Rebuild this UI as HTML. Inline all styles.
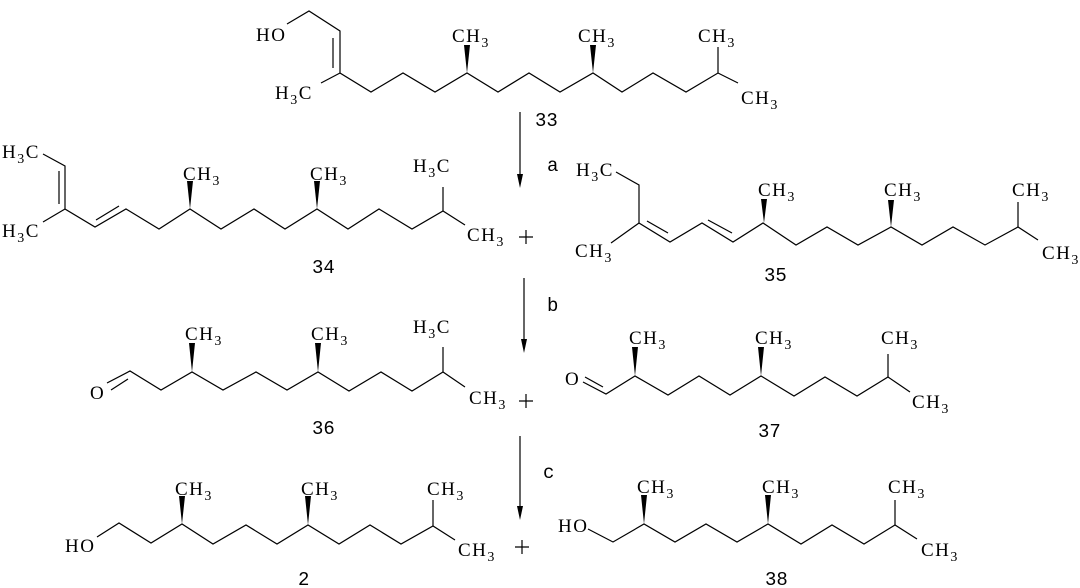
<!DOCTYPE html>
<html><head><meta charset="utf-8"><style>
html,body{margin:0;padding:0;background:#fff;}
svg{display:block;}
.a{font-family:"Liberation Serif",serif;font-size:19px;letter-spacing:1.5px;fill:#000;}
.m{font-family:"Liberation Mono",monospace;font-size:19px;fill:#000;}
.s{font-size:14px;}
</style></head><body>
<svg width="1080" height="588" viewBox="0 0 1080 588" xmlns="http://www.w3.org/2000/svg">
<g fill="none" stroke="#000" stroke-width="1.2">
<!-- 33 -->
<polyline points="287,24 309,11 340,31 340,73 371,92 403,73 435,92 467,73 498,92 529,73 560,92 593,73 622,92 653,73 686,92 718,73 738,83"/>
<line x1="333" y1="38" x2="333" y2="68"/>
<line x1="340" y1="73" x2="321" y2="83"/>
<line x1="718" y1="73" x2="718" y2="47"/>
<!-- 34 -->
<polyline points="43,154 65,166 65,209 95,227 126,209 159,229 190,209 221,229 254,209 285,229 317,209 348,229 379,209 412,229 443,211 465,225"/>
<line x1="59" y1="171" x2="59" y2="204"/>
<line x1="65" y1="209" x2="43" y2="222"/>
<line x1="96" y1="220" x2="119" y2="206"/>
<line x1="443" y1="211" x2="443" y2="187"/>
<!-- 35 -->
<polyline points="616,172 639,185 639,223 670,242 702,223 733,242 763,223 796,245 827,227 858,245 891,227 922,245 953,227 985,245 1018,227 1038,240"/>
<line x1="639" y1="223" x2="611" y2="243"/>
<line x1="647" y1="221" x2="668" y2="233"/>
<line x1="708" y1="220" x2="732" y2="233"/>
<line x1="1018" y1="227" x2="1018" y2="202"/>
<!-- 36 -->
<polyline points="107,383 130,371 161,390 192,372 223,390 256,372 287,390 318,372 349,391 381,372 412,391 443,372 465,387"/>
<line x1="111" y1="390" x2="128" y2="379"/>
<line x1="443" y1="372" x2="443" y2="347"/>
<!-- 37 -->
<polyline points="583,382 606,394 635,376 668,395 699,376 730,395 761,376 794,396 825,377 857,396 888,377 910,392"/>
<line x1="585" y1="377" x2="603" y2="387"/>
<line x1="888" y1="377" x2="888" y2="354"/>
<!-- 2 -->
<polyline points="97,537 119,523 151,543 182,524 213,544 246,525 277,544 308,525 339,544 370,525 401,544 433,526 455,540"/>
<line x1="433" y1="526" x2="433" y2="500"/>
<!-- 38 -->
<polyline points="588,529 613,542 644,524 675,542 706,524 737,542 768,524 801,544 832,525 864,544 895,525 917,539"/>
<line x1="895" y1="525" x2="895" y2="500"/>
<!-- arrows -->
<line x1="520" y1="112" x2="520" y2="180"/>
<line x1="524" y1="278" x2="524" y2="345"/>
<line x1="520" y1="436" x2="520" y2="512"/>
<!-- plus -->
<path d="M519,237h14M526,230v14M519,401h14M526,394v14M515,547h14M522,540v14"/>
</g>
<g fill="#000">
<polygon points="517,174 523,174 520,188"/>
<polygon points="521,339 527,339 524,353"/>
<polygon points="517,506 523,506 520,520"/>
<polygon points="464,45 470,45 467,73"/><polygon points="590,45 596,45 593,73"/>
<polygon points="187,181 193,181 190,209"/><polygon points="314,181 320,181 317,209"/>
<polygon points="761,199 767,199 764,223"/><polygon points="888,200 894,200 891,227"/>
<polygon points="189,343 195,343 192,372"/><polygon points="315,343 321,343 318,372"/>
<polygon points="632,347 638,347 635,376"/><polygon points="758,347 764,347 761,376"/>
<polygon points="179,496 185,496 182,524"/><polygon points="305,496 311,496 308,525"/>
<polygon points="641,495 647,495 644,524"/><polygon points="765,495 771,495 768,524"/>
</g>
<g class="a">
<text x="256" y="41">HO</text>
<text x="275" y="99">H<tspan class="s" dy="5">3</tspan><tspan dy="-5">C</tspan></text>
<text x="452" y="42">CH<tspan class="s" dy="5">3</tspan></text>
<text x="578" y="42">CH<tspan class="s" dy="5">3</tspan></text>
<text x="698" y="42">CH<tspan class="s" dy="5">3</tspan></text>
<text x="741" y="104">CH<tspan class="s" dy="5">3</tspan></text>

<text x="2" y="158">H<tspan class="s" dy="5">3</tspan><tspan dy="-5">C</tspan></text>
<text x="2" y="237">H<tspan class="s" dy="5">3</tspan><tspan dy="-5">C</tspan></text>
<text x="183" y="180">CH<tspan class="s" dy="5">3</tspan></text>
<text x="310" y="180">CH<tspan class="s" dy="5">3</tspan></text>
<text x="413" y="172">H<tspan class="s" dy="5">3</tspan><tspan dy="-5">C</tspan></text>
<text x="467" y="241">CH<tspan class="s" dy="5">3</tspan></text>

<text x="576" y="176">H<tspan class="s" dy="5">3</tspan><tspan dy="-5">C</tspan></text>
<text x="575" y="257">CH<tspan class="s" dy="5">3</tspan></text>
<text x="758" y="196">CH<tspan class="s" dy="5">3</tspan></text>
<text x="884" y="196">CH<tspan class="s" dy="5">3</tspan></text>
<text x="1012" y="196">CH<tspan class="s" dy="5">3</tspan></text>
<text x="1042" y="259">CH<tspan class="s" dy="5">3</tspan></text>

<text x="90" y="399">O</text>
<text x="185" y="340">CH<tspan class="s" dy="5">3</tspan></text>
<text x="311" y="340">CH<tspan class="s" dy="5">3</tspan></text>
<text x="413" y="333">H<tspan class="s" dy="5">3</tspan><tspan dy="-5">C</tspan></text>
<text x="469" y="404">CH<tspan class="s" dy="5">3</tspan></text>

<text x="565" y="385">O</text>
<text x="629" y="344">CH<tspan class="s" dy="5">3</tspan></text>
<text x="755" y="344">CH<tspan class="s" dy="5">3</tspan></text>
<text x="881" y="344">CH<tspan class="s" dy="5">3</tspan></text>
<text x="912" y="408">CH<tspan class="s" dy="5">3</tspan></text>

<text x="65" y="552">HO</text>
<text x="175" y="495">CH<tspan class="s" dy="5">3</tspan></text>
<text x="301" y="495">CH<tspan class="s" dy="5">3</tspan></text>
<text x="427" y="495">CH<tspan class="s" dy="5">3</tspan></text>
<text x="458" y="556">CH<tspan class="s" dy="5">3</tspan></text>

<text x="558" y="532">HO</text>
<text x="637" y="493">CH<tspan class="s" dy="5">3</tspan></text>
<text x="762" y="493">CH<tspan class="s" dy="5">3</tspan></text>
<text x="888" y="493">CH<tspan class="s" dy="5">3</tspan></text>
<text x="921" y="556">CH<tspan class="s" dy="5">3</tspan></text>
</g>
<g class="m">
<text x="535" y="126">33</text>
<text x="547" y="171">a</text>
<text x="312" y="273">34</text>
<text x="764" y="281">35</text>
<text x="547" y="311">b</text>
<text x="312" y="434">36</text>
<text x="758" y="437">37</text>
<text x="543" y="478">c</text>
<text x="298" y="585">2</text>
<text x="765" y="585">38</text>
</g>
</svg>
</body></html>
